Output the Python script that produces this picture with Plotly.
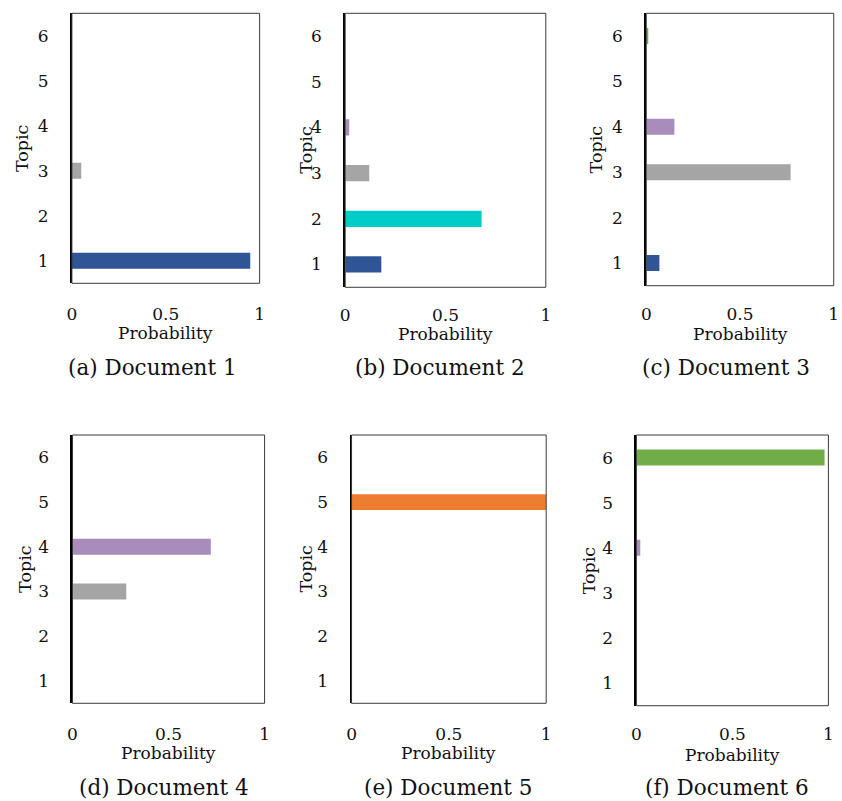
import plotly.graph_objects as go

# Topic probabilities for each of the six documents (topics 1..6)
topics = [1, 2, 3, 4, 5, 6]
doc1 = [0.95, 0.0, 0.05, 0.0, 0.0, 0.0]
doc2 = [0.18, 0.68, 0.12, 0.02, 0.0, 0.0]
doc3 = [0.07, 0.0, 0.77, 0.15, 0.0, 0.01]
doc4 = [0.0, 0.0, 0.28, 0.72, 0.0, 0.0]
doc5 = [0.0, 0.0, 0.0, 0.0, 1.0, 0.0]
doc6 = [0.0, 0.0, 0.0, 0.02, 0.0, 0.98]
captions = ["(a) Document 1", "(b) Document 2", "(c) Document 3",
            "(d) Document 4", "(e) Document 5", "(f) Document 6"]
x_ticks = [0, 0.5, 1]
x_tick_text = ["0", "0.5", "1"]

topic_colors = ["#2F5597", "#00CCC8", "#A5A5A5", "#A88CBC", "#ED7D31", "#70AD47"]

W, H = 842, 801
FONT = "DejaVu Serif"
INK = "#111111"

# Plot-area boxes in pixels: left, right, top, bottom
boxes = [
    (67.7, 257.7, 13.3, 283.3),
    (344.3, 547.3, 13.3, 287.3),
    (649.0, 838.7, 13.3, 285.7),
    (68.3, 262.7, 435.0, 703.3),
    (350.7, 547.7, 435.0, 703.3),
    (639.0, 833.3, 435.0, 705.7),
]
# per-panel gap between the plot bottom and the x tick labels
x_ticklen = [15, 12, 13, 15, 15, 13]
# label positions in pixels
topic_title_x = [18, 305, 598, 20, 305, 591]
caption_pos = [(149, 367), (440, 367), (730, 367), (161, 787), (449, 787), (731, 787)]
prob_y = [333, 334, 334, 753, 753, 755]

docs = [doc1, doc2, doc3, doc4, doc5, doc6]

fig = go.Figure()
layout = dict(
    width=W, height=H,
    margin=dict(l=0, r=0, t=0, b=0),
    paper_bgcolor="white", plot_bgcolor="white",
    showlegend=False,
    font=dict(family=FONT, color=INK),
)
annotations = []
shapes = []

for i, (vals, box) in enumerate(zip(docs, boxes)):
    n = "" if i == 0 else str(i + 1)
    L, R, T, B = box
    fig.add_trace(go.Bar(
        x=vals, y=topics, orientation="h", width=0.355,
        marker=dict(color=topic_colors, line=dict(width=0)),
        xaxis="x" + n, yaxis="y" + n, hoverinfo="x+y",
    ))
    layout["xaxis" + n] = dict(
        domain=[L / W, R / W], anchor="y" + n, range=[0, 1],
        tickvals=x_ticks, ticktext=x_tick_text,
        showgrid=False, zeroline=False, showline=False,
        ticks="outside", ticklen=x_ticklen[i], tickcolor="rgba(0,0,0,0)",
        tickfont=dict(family=FONT, size=17, color=INK),
        fixedrange=True,
    )
    layout["yaxis" + n] = dict(
        domain=[1 - B / H, 1 - T / H], anchor="x" + n, range=[0.5, 6.5],
        tickvals=topics, ticktext=[str(t) for t in topics],
        showgrid=False, zeroline=False,
        showline=True, linecolor="black", linewidth=2,
        ticks="outside", ticklen=18, tickcolor="rgba(0,0,0,0)",
        tickfont=dict(family=FONT, size=17, color=INK),
        fixedrange=True,
    )
    # thin frame around the plot area
    shapes.append(dict(type="rect", xref="paper", yref="paper",
                       x0=L / W, x1=R / W, y0=1 - B / H, y1=1 - T / H,
                       line=dict(color="#3a3a3a", width=1), layer="above"))
    annotations.append(dict(
        text="Topic", xref="paper", yref="paper",
        x=topic_title_x[i] / W, y=1 - (T + B) / 2 / H, textangle=-90,
        showarrow=False, xanchor="center", yanchor="middle",
        font=dict(family=FONT, size=17.5, color=INK)))
    annotations.append(dict(
        text="Probability", xref="paper", yref="paper",
        x=(L + R) / 2 / W, y=1 - prob_y[i] / H,
        showarrow=False, xanchor="center", yanchor="middle",
        font=dict(family=FONT, size=17, color=INK)))
    cx, cy = caption_pos[i]
    annotations.append(dict(
        text=captions[i], xref="paper", yref="paper",
        x=cx / W, y=1 - cy / H,
        showarrow=False, xanchor="center", yanchor="middle",
        font=dict(family=FONT, size=21.5, color=INK)))

layout["annotations"] = annotations
layout["shapes"] = shapes
fig.update_layout(**layout)
fig.write_html("out.html")
